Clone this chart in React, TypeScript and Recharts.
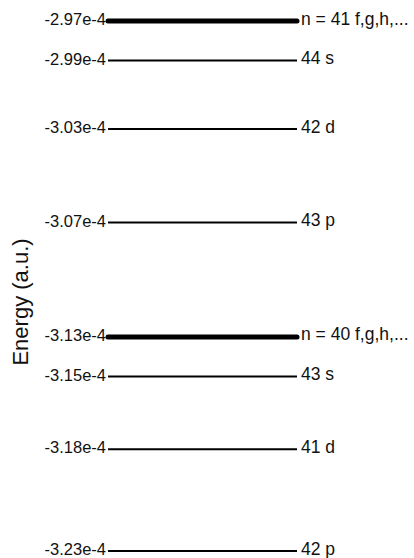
import React from 'react';
import { LineChart, Line, XAxis, YAxis, LabelList } from 'recharts';

// Rydberg levels around n = 40..44 (atomic units)
const stateNames = ['n = 41 f,g,h,...', '44 s', '42 d', '43 p', 'n = 40 f,g,h,...', '43 s', '41 d', '42 p'];
const stateEnergies = [-2.974e-4, -2.993e-4, -3.026e-4, -3.071e-4, -3.126e-4, -3.1451e-4, -3.18e-4, -3.229e-4];
// hydrogenic manifolds get the heavy stroke
const isManifold = [true, false, false, false, true, false, false, false];
const energyTicks = stateEnergies.map((e) => e.toExponential(2));

const levels = stateNames.map((name, i) => ({
  name,
  tick: energyTicks[i],
  manifold: isManifold[i],
  data: [
    { x: 0, energy: stateEnergies[i] },
    { x: 1, energy: stateEnergies[i] },
  ],
}));

const FONT = '"Liberation Sans", Arial, Helvetica, sans-serif';

const AxisTitle = () => (
  <text
    x={20}
    y={302}
    transform="rotate(-90 20 302)"
    textAnchor="middle"
    dominantBaseline="central"
    fontSize={22}
    fill="#111"
    fontFamily={FONT}
  >
    Energy (a.u.)
  </text>
);

const levelLabel = (left: string, right: string) => (props: any) => {
  const x = props.x ?? props.viewBox?.x;
  const y = props.y ?? props.viewBox?.y;
  if (x == null || y == null) return null;
  if (props.index === 0) {
    return (
      <text x={x - 2} y={y} dy="0.26em" textAnchor="end" fontSize={16.5} fill="#111" fontFamily={FONT}>
        {left}
      </text>
    );
  }
  return (
    <text x={x + 4} y={y} dy="0.2em" textAnchor="start" fontSize={17.5} fill="#111" fontFamily={FONT}>
      {right}
    </text>
  );
};

export default function App() {
  const lo = Math.min(...stateEnergies);
  const hi = Math.max(...stateEnergies);
  return (
    <div style={{ position: 'absolute', left: 0, top: 0, background: '#fff' }}>
      <LineChart width={414} height={558} margin={{ top: 21, right: 117, bottom: 7, left: 0 }}>
        <XAxis type="number" dataKey="x" domain={[0, 1]} hide />
        <YAxis
          type="number"
          domain={[lo, hi]}
          width={108}
          tick={false}
          axisLine={false}
          tickLine={false}
          label={<AxisTitle />}
        />
        {levels.map((lv) => (
          <Line
            key={lv.name}
            data={lv.data}
            dataKey="energy"
            type="linear"
            stroke="#000"
            strokeWidth={lv.manifold ? 5 : 2}
            strokeLinecap={lv.manifold ? 'round' : 'butt'}
            dot={false}
            activeDot={false}
            isAnimationActive={false}
          >
            <LabelList dataKey="energy" content={levelLabel(lv.tick, lv.name)} />
          </Line>
        ))}
      </LineChart>
    </div>
  );
}
